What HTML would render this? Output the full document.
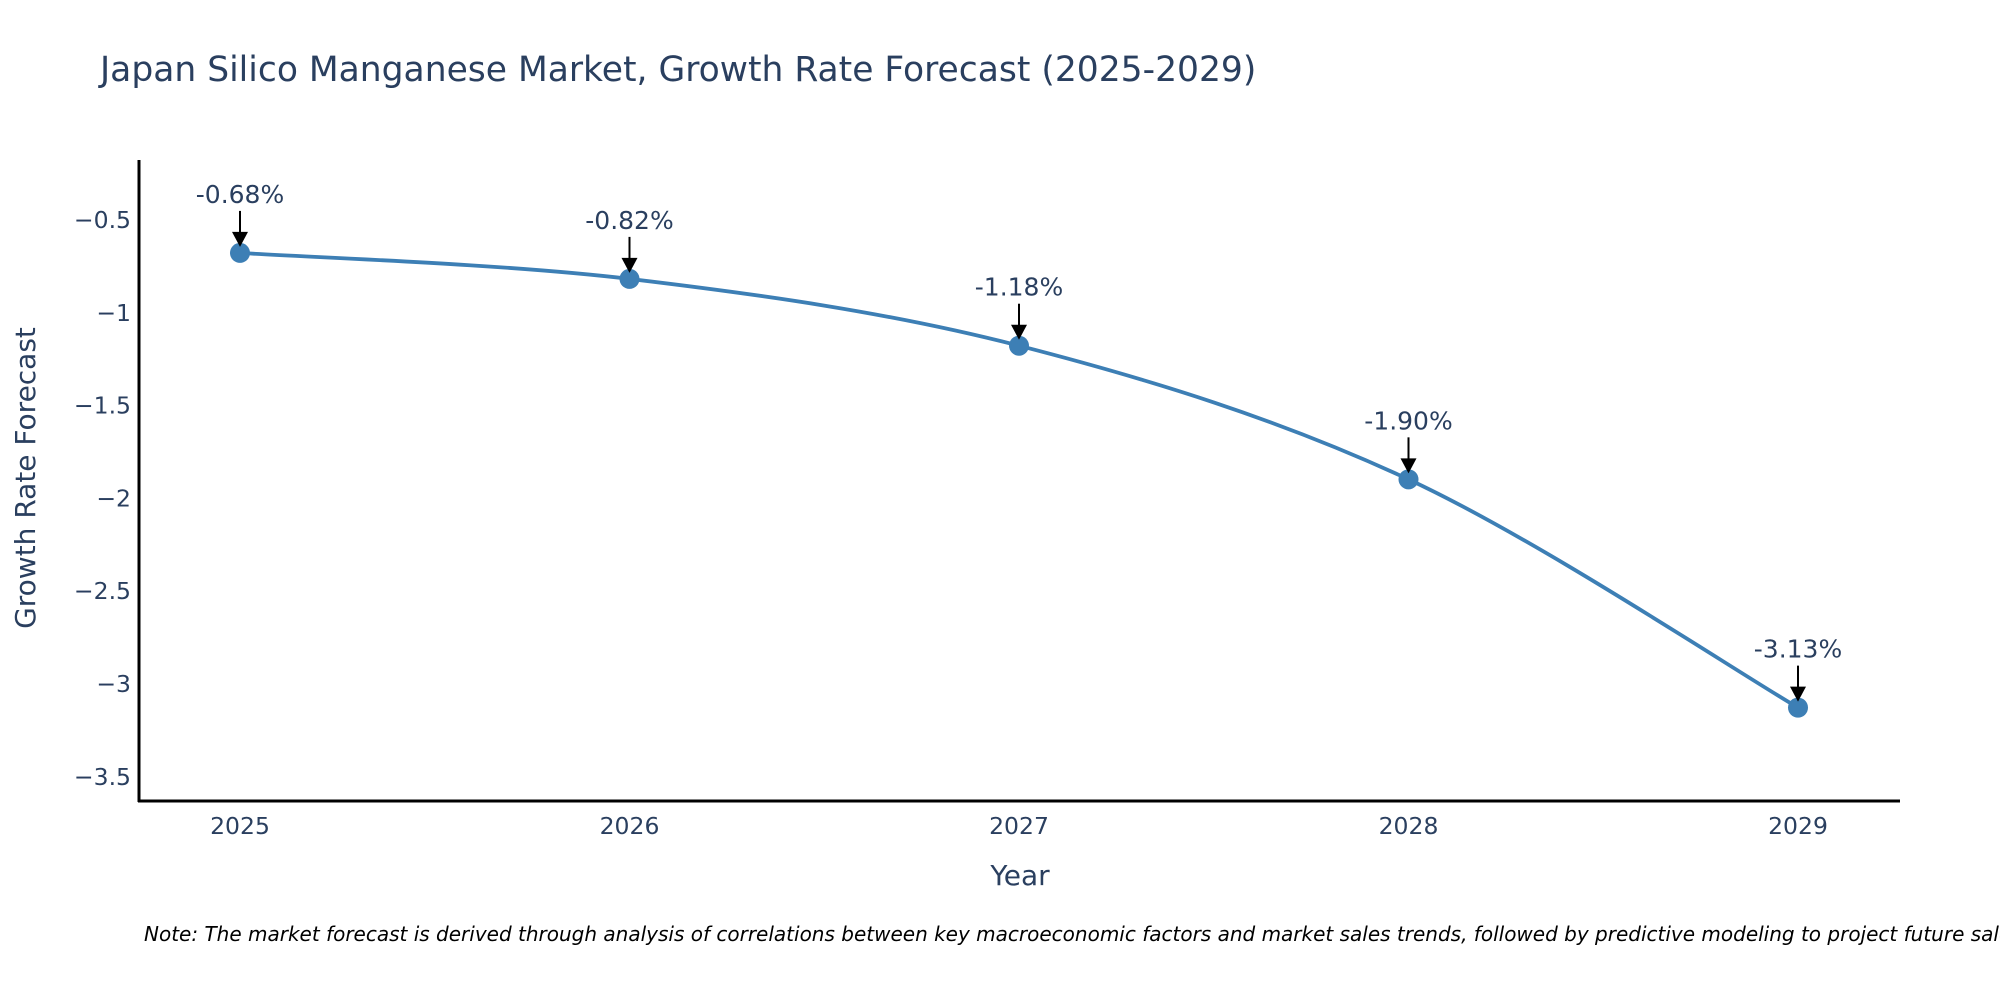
<!DOCTYPE html>
<html><head><meta charset="utf-8"><style>
body{margin:0;background:#fff}
svg text{font-family:"DejaVu Sans","Liberation Sans",sans-serif;fill:#2a3f5f}
</style></head><body>
<svg id="chart" width="2000" height="1000" xmlns="http://www.w3.org/2000/svg">
<rect width="2000" height="1000" fill="#fff"/>
<text x="100" y="81" font-size="34.5">Japan Silico Manganese Market, Growth Rate Forecast (2025-2029)</text>
<g id="ticks"></g>
<g id="series"></g>
<line x1="139" y1="160" x2="139" y2="802" stroke="#000" stroke-width="3"/>
<line x1="138" y1="801" x2="1900" y2="801" stroke="#000" stroke-width="3"/>
<text x="1020" y="885" font-size="28" text-anchor="middle">Year</text>
<text transform="translate(35,478) rotate(-90)" font-size="28" text-anchor="middle">Growth Rate Forecast</text>
<text x="144" y="941" font-size="20" font-style="italic" style="fill:#000">Note: The market forecast is derived through analysis of correlations between key macroeconomic factors and market sales trends, followed by predictive modeling to project future sales.</text>
</svg>
<script>
const years=[2025,2026,2027,2028,2029];
const values=[-0.68,-0.82,-1.18,-1.90,-3.13];
const labels=["-0.68%","-0.82%","-1.18%","-1.90%","-3.13%"];
const yTicks=[-0.5,-1,-1.5,-2,-2.5,-3,-3.5];
const yTickLabels=["\u22120.5","\u22121","\u22121.5","\u22122","\u22122.5","\u22123","\u22123.5"];
const NS="http://www.w3.org/2000/svg";
function xs(v){return 240+(v-2025)*389.5;}
function ys(v){return 219.5+(-0.5-v)*185.6;}
function mk(t,a,p){const e=document.createElementNS(NS,t);for(const k in a)e.setAttribute(k,a[k]);p.appendChild(e);return e;}
const tg=document.getElementById('ticks'),sg=document.getElementById('series');
yTicks.forEach((v,i)=>{const t=mk('text',{x:131,y:ys(v)+8.5,'font-size':23.5,'text-anchor':'end'},tg);


t.textContent=yTickLabels[i];});
years.forEach(v=>{const t=mk('text',{x:xs(v),y:834,'font-size':23.5,'text-anchor':'middle'},tg);


t.textContent=String(v);});
const P=years.map((y,i)=>[xs(y),ys(values[i])]);
let d=`M${P[0][0]},${P[0][1]}`;
for(let i=0;i<P.length-1;i++){const p0=P[i-1]||P[i],p1=P[i],p2=P[i+1],p3=P[i+2]||p2;const k=6;
d+=` C${p1[0]+(p2[0]-p0[0])/k},${p1[1]+(p2[1]-p0[1])/k} ${p2[0]-(p3[0]-p1[0])/k},${p2[1]-(p3[1]-p1[1])/k} ${p2[0]},${p2[1]}`;}
const line=mk('path',{d:d,fill:'none',stroke:'#3d7fb5','stroke-width':3.8},sg);


P.forEach((p,i)=>{const c=mk('circle',{cx:p[0],cy:p[1],r:10,fill:'#3d7fb5'},sg);


const a=mk('line',{x1:p[0],y1:p[1]-42,x2:p[0],y2:p[1]-18,stroke:'#000','stroke-width':2},sg);


const h=mk('polygon',{points:`${p[0]-8},${p[1]-21} ${p[0]+8},${p[1]-21} ${p[0]},${p[1]-6}`,fill:'#000'},sg);


const t=mk('text',{x:p[0],y:p[1]-50,'font-size':25,'text-anchor':'middle'},sg);


t.textContent=labels[i];});
</script>
</body></html>
